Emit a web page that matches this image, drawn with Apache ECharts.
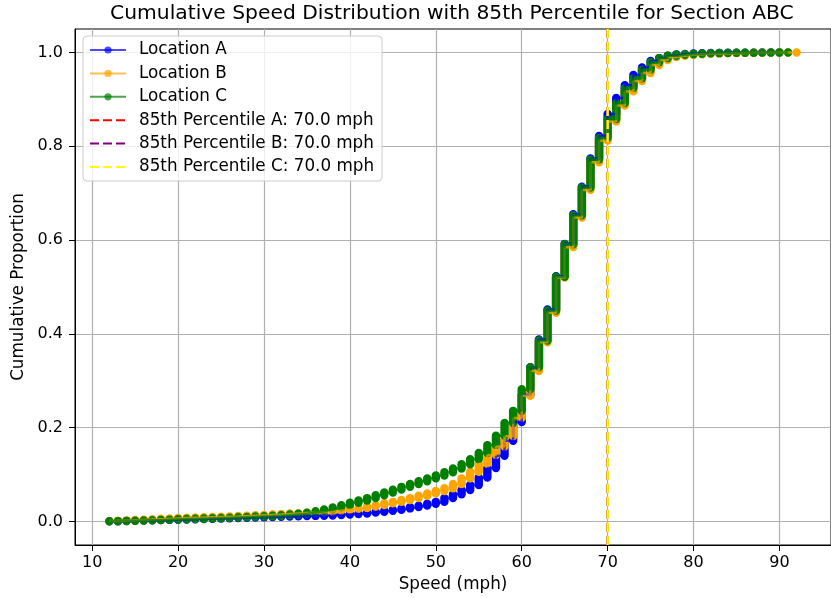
<!DOCTYPE html>
<html>
<head>
<meta charset="utf-8">
<script src="https://cdn.jsdelivr.net/npm/echarts@6/dist/echarts.min.js"></script>
<style>
html,body{margin:0;padding:0;background:#fff;}
#chart{width:831px;height:598px;}
</style>
</head>
<body>
<div id="chart"></div>
<script>
// ---------- data ----------
const speeds = [12,13,14,15,16,17,18,19,20,21,22,23,24,25,26,27,28,29,30,31,32,33,34,35,36,37,38,39,40,41,42,43,44,45,46,47,48,49,50,51,52,53,54,55,56,57,58,59,60,61,62,63,64,65,66,67,68,69,70,71,72,73,74,75,76,77,78,79,80,81,82,83,84,85,86,87,88,89,90,91,92];

const cdfA = [0.0005,0.001,0.0015,0.002,0.0025,0.003,0.0035,0.004,0.0045,0.005,0.0055,0.006,0.0065,0.007,0.0075,0.008,0.0085,0.009,0.0095,0.010,0.0105,0.011,0.0115,0.012,0.0125,0.013,0.014,0.015,0.016,0.017,0.019,0.021,0.023,0.025,0.028,0.031,0.034,0.038,0.042,0.050,0.058,0.067,0.078,0.094,0.114,0.140,0.172,0.212,0.270,0.329,0.388,0.452,0.523,0.592,0.655,0.714,0.774,0.822,0.869,0.903,0.930,0.952,0.968,0.982,0.988,0.993,0.996,0.997,0.998,0.9985,0.999,0.9992,0.9994,0.9995,0.9996,0.9997,0.9998,0.9999,1.0,null,null];

const cdfB = [0.001,0.0018,0.0026,0.0034,0.0042,0.005,0.0058,0.0066,0.0074,0.008,0.0086,0.0092,0.0098,0.0104,0.011,0.0118,0.0126,0.0134,0.0142,0.015,0.016,0.017,0.018,0.019,0.020,0.021,0.023,0.025,0.027,0.029,0.032,0.035,0.039,0.042,0.046,0.050,0.055,0.060,0.065,0.071,0.080,0.092,0.106,0.123,0.142,0.160,0.182,0.221,0.268,0.321,0.382,0.445,0.520,0.585,0.648,0.707,0.766,0.812,0.853,0.887,0.917,0.939,0.956,0.973,0.984,0.990,0.993,0.995,0.996,0.997,0.9975,0.998,0.9985,0.999,0.9992,0.9994,0.9996,0.9997,0.9998,0.9999,1.0];

const cdfC = [0.0005,0.001,0.0015,0.002,0.0025,0.003,0.0036,0.0042,0.0048,0.0054,0.006,0.0066,0.0072,0.0078,0.0084,0.009,0.0098,0.0106,0.0114,0.0124,0.0136,0.015,0.0168,0.019,0.022,0.026,0.030,0.035,0.040,0.045,0.050,0.056,0.062,0.068,0.074,0.080,0.086,0.092,0.098,0.105,0.113,0.122,0.133,0.146,0.163,0.183,0.210,0.236,0.282,0.329,0.386,0.450,0.522,0.591,0.653,0.712,0.772,0.818,0.858,0.892,0.924,0.945,0.963,0.979,0.988,0.993,0.995,0.996,0.997,0.998,0.9985,0.999,0.9992,0.9994,0.9995,0.9996,0.9997,0.9998,0.9999,1.0,null];

const locations = ['A', 'B', 'C'];
const percentile85 = [70.0, 70.0, 70.0];
const xTicks = [10, 20, 30, 40, 50, 60, 70, 80, 90];
const yTicks = [0.0, 0.2, 0.4, 0.6, 0.8, 1.0];
const xRange = [8, 96];
const yRange = [-0.05, 1.05];

// ---------- styles ----------
const FONT = 'DejaVu Sans';
const seriesColors = ['#0000ff', '#ffa500', '#008000'];
const pColors = ['#ff0000', '#800080', '#ffff00'];
const cdfs = [cdfA, cdfB, cdfC];

const series = [];
const legendData = [];
locations.forEach((loc, k) => {
  const vals = cdfs[k];
  const name = 'Location ' + loc;
  const lineData = [];
  const barData = [];
  for (let i = 0; i < speeds.length; i++) {
    if (vals[i] == null) continue;
    const prev = (i > 0 && vals[i - 1] != null) ? vals[i - 1] : vals[i];
    lineData.push([speeds[i], prev]);
    lineData.push([speeds[i], vals[i]]);
    barData.push([speeds[i], prev, vals[i]]);
  }
  series.push({
    type: 'line', name: name, data: lineData,
    symbol: 'circle', showSymbol: false,
    lineStyle: { color: seriesColors[k], width: 2.5, opacity: 0.7 },
    itemStyle: { color: seriesColors[k], opacity: 0.7 },
    silent: true
  });
  series.push({
    type: 'custom', name: name, data: barData,
    encode: { x: 0, y: [1, 2] },
    silent: true,
    renderItem: function (params, api) {
      const top = api.coord([api.value(0), api.value(2)]);
      const bot = api.coord([api.value(0), api.value(1)]);
      const r = 4.2;
      return {
        type: 'rect',
        shape: { x: top[0] - r, y: top[1] - r, width: 2 * r, height: (bot[1] - top[1]) + 2 * r, r: r },
        style: { fill: seriesColors[k] }
      };
    }
  });
  legendData.push({ name: name });
});

locations.forEach((loc, k) => {
  const name = '85th Percentile ' + loc + ': ' + percentile85[k].toFixed(1) + ' mph';
  series.push({
    type: 'line', name: name,
    data: [[percentile85[k], yRange[0]], [percentile85[k], yRange[1]]],
    symbol: 'none', silent: true,
    lineStyle: { color: pColors[k], width: 2.5, type: [9, 4] },
    itemStyle: { color: pColors[k] },
    z: 5
  });
  legendData.push({ name: name, itemStyle: { opacity: 0 } });
});

const chart = echarts.init(document.getElementById('chart'), null, { renderer: 'canvas' });
chart.setOption({
  animation: false,
  backgroundColor: '#ffffff',
  title: {
    text: 'Cumulative Speed Distribution with 85th Percentile for Section ABC',
    left: 110, top: 4, padding: 0,
    textStyle: { fontFamily: FONT, fontSize: 20.3, fontWeight: 'normal', color: '#000' }
  },
  grid: {
    left: 75, top: 29, width: 758.6, height: 516.8,
    show: true, borderColor: '#000', borderWidth: 1, backgroundColor: 'transparent'
  },
  legend: {
    orient: 'vertical', left: 83, top: 36,
    itemWidth: 36, itemHeight: 9, itemGap: 5.4,
    padding: [5, 8, 5, 6],
    backgroundColor: 'rgba(255,255,255,0.8)',
    borderColor: '#cccccc', borderWidth: 1, borderRadius: 4,
    textStyle: { fontFamily: FONT, fontSize: 16.8, color: '#000', lineHeight: 18, padding: [0, 0, 0, 8] },
    data: legendData,
    selectedMode: false
  },
  xAxis: {
    type: 'value', min: xRange[0], max: xRange[1],
    name: 'Speed (mph)', nameLocation: 'middle', nameGap: 31,
    nameTextStyle: { fontFamily: FONT, fontSize: 16.8, color: '#000' },
    axisLine: { show: true, onZero: false, lineStyle: { color: '#000', width: 1 } },
    axisTick: { show: true, length: 6, lineStyle: { color: '#000', width: 1 }, customValues: xTicks },
    axisLabel: { fontFamily: FONT, fontSize: 16, color: '#000', margin: 10, customValues: xTicks, formatter: v => String(v) },
    splitLine: { show: true, lineStyle: { color: '#b0b0b0', width: 1.2 } }
  },
  yAxis: {
    type: 'value', min: yRange[0], max: yRange[1],
    name: 'Cumulative Proportion', nameLocation: 'middle', nameGap: 46,
    nameTextStyle: { fontFamily: FONT, fontSize: 16.8, color: '#000' },
    axisLine: { show: true, onZero: false, lineStyle: { color: '#000', width: 1 } },
    axisTick: { show: true, length: 6, lineStyle: { color: '#000', width: 1 }, customValues: yTicks },
    axisLabel: { fontFamily: FONT, fontSize: 16, color: '#000', margin: 12, customValues: yTicks, formatter: v => v.toFixed(1) },
    splitLine: { show: true, lineStyle: { color: '#b0b0b0', width: 1.2 } }
  },
  series: series
});
</script>
</body>
</html>
